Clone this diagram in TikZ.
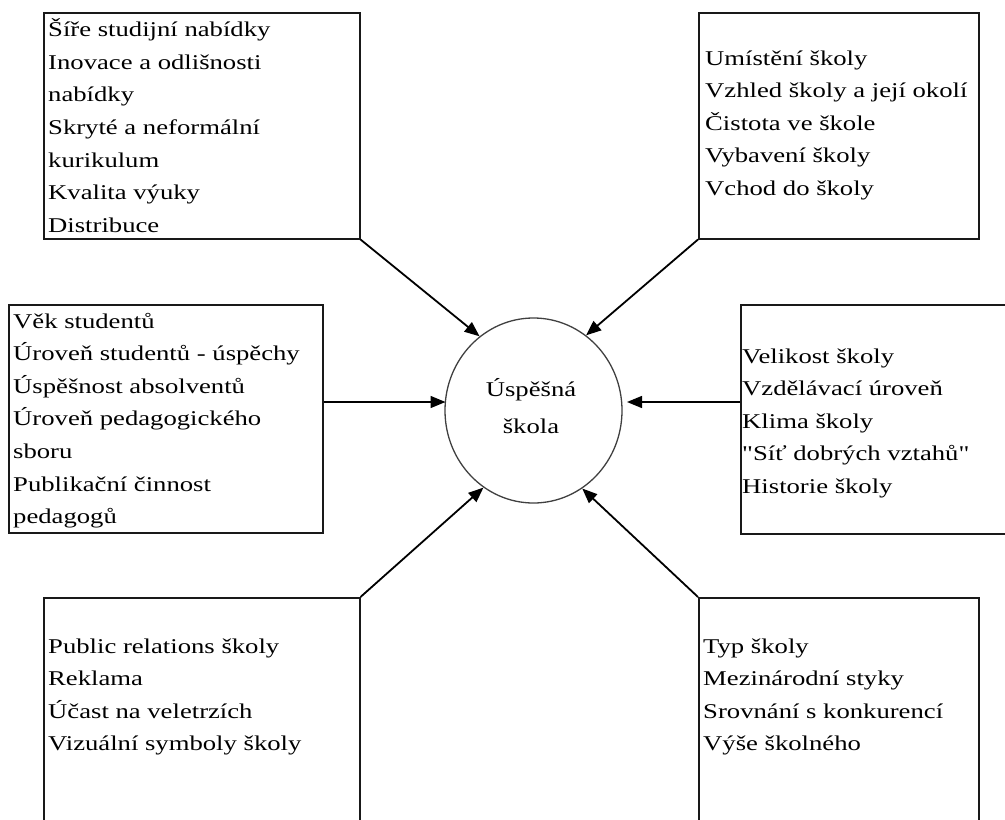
\documentclass[tikz,border=0pt]{standalone}
\usepackage{fontspec}
% plain family (no TeX quote mapping), widened to the set width of the labels
\newfontfamily\labelfamily[FakeStretch=1.27]{Liberation Serif}
\usetikzlibrary{arrows.meta,shapes.geometric}

% list text: 21pt type on a 32.6pt line pitch, first baseline = box baseline
\newcommand\listfont{\labelfamily\fontsize{21}{32.6}\selectfont}
\newcommand\itemlist[2]{\parbox[t]{#1}{\listfont\raggedright #2}}

\tikzset{
  factor/.style={draw=black!90, line width=1.5pt, rectangle, anchor=north west,
                 inner sep=0pt},
  listtext/.style={anchor=base west, inner sep=0pt},
  influence/.style={-{Triangle[length=15pt,width=12pt]}, line width=1.8pt},
  level/.style={influence, line width=1.4pt},
}

\begin{document}
\begin{tikzpicture}[x=1pt,y=-1pt]
  \useasboundingbox (0,0) rectangle (1005,820);

  % factor boxes
  \node[factor, minimum width=316pt, minimum height=226pt] (tl) at (43,12) {};
  \node[factor, minimum width=280pt, minimum height=226pt] (tr) at (698,12) {};
  \node[factor, minimum width=314pt, minimum height=228pt] (ml) at (8,304) {};
  \node[factor, minimum width=300pt, minimum height=229pt] (mr) at (740,304) {};
  \node[factor, minimum width=316pt, minimum height=300pt] (bl) at (43,597) {};
  \node[factor, minimum width=280pt, minimum height=300pt] (br) at (698,597) {};

  % central goal
  \node[ellipse, draw=black!75, line width=1.3pt, inner sep=0pt,
        minimum width=177pt, minimum height=185pt] (hub) at (533.5,410.5) {};
  \node[anchor=base, inner sep=0pt] (hubText) at (531,396)
    {\parbox[t]{140pt}{\centering\labelfamily\fontsize{21}{37}\selectfont Úspěšná\\škola}};

  % box contents
  \node[listtext] (tlText) at (48,36.7) {\itemlist{300pt}{Šíře studijní nabídky\\
    Inovace a odlišnosti\\nabídky\\Skryté a neformální\\kurikulum\\Kvalita výuky\\
    Distribuce}};
  \node[listtext] (trText) at (705,65) {\itemlist{270pt}{Umístění školy\\
    Vzhled školy a její okolí\\Čistota ve škole\\Vybavení školy\\Vchod do školy}};
  \node[listtext] (mlText) at (13,328) {\itemlist{305pt}{Věk studentů\\
    Úroveň studentů - úspěchy\\Úspěšnost absolventů\\Úroveň pedagogického\\sboru\\
    Publikační činnost\\pedagogů}};
  \node[listtext] (mrText) at (742,363) {\itemlist{260pt}{Velikost školy\\
    Vzdělávací úroveň\\Klima školy\\"Síť dobrých vztahů"\\Historie školy}};
  \node[listtext] (blText) at (48,653) {\itemlist{300pt}{Public relations školy\\
    Reklama\\Účast na veletrzích\\Vizuální symboly školy}};
  \node[listtext] (brText) at (703,653) {\itemlist{270pt}{Typ školy\\
    Mezinárodní styky\\Srovnání s konkurencí\\Výše školného}};

  % connectors into the goal
  \draw[influence] (tl.south east) -- (hub.126);
  \draw[influence] (tr.south west) -- (hub.55);
  \draw[influence] (bl.north east) -- (hub.237);
  \draw[influence] (br.north west) -- (hub.302);
  \coordinate (mlTip) at (445.5,402);
  \coordinate (mrTip) at (627,402);
  \draw[level] (ml.east |- mlTip) -- (mlTip);
  \draw[level] (mr.west |- mrTip) -- (mrTip);
\end{tikzpicture}
\end{document}
